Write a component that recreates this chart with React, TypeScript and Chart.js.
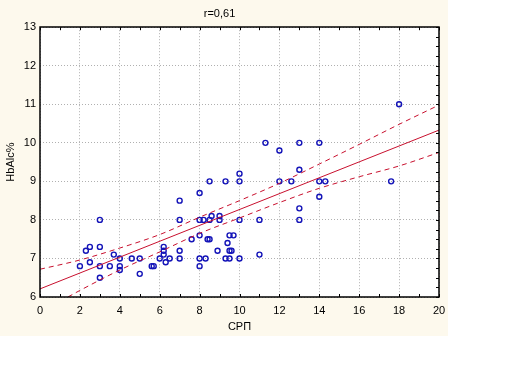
import React, { useEffect, useRef } from "react";
import { Chart, registerables } from "chart.js";

Chart.register(...registerables);

// Observations (СРП, HbAlc%)
const obsX = [
  2, 2.3, 2.5, 2.5, 3, 3, 3, 3, 3.5, 3.7, 4, 4, 4, 4.6, 5, 5, 5.6, 5.7, 6, 6.2,
  6.2, 6.2, 6.3, 6.5, 7, 7, 7, 7, 7.6, 8, 8, 8, 8, 8, 8.2, 8.3, 8.4, 8.5, 8.5,
  8.5, 8.6, 8.9, 9, 9, 9.3, 9.3, 9.4, 9.5, 9.5, 9.5, 9.6, 9.7, 10, 10, 10, 10,
  11, 11, 11.3, 12, 12, 12.6, 13, 13, 13, 13, 14, 14, 14, 14.3, 17.6, 18,
];
const obsY = [
  6.8, 7.2, 7.3, 6.9, 8.0, 7.3, 6.8, 6.5, 6.8, 7.1, 7.0, 6.8, 6.7, 7.0, 7.0, 6.6,
  6.8, 6.8, 7.0, 7.3, 7.2, 7.1, 6.9, 7.0, 8.5, 8.0, 7.2, 7.0, 7.5, 8.7, 8.0, 7.6,
  7.0, 6.8, 8.0, 7.0, 7.5, 7.5, 9.0, 8.0, 8.1, 7.2, 8.0, 8.1, 9.0, 7.0, 7.4, 7.0,
  7.6, 7.2, 7.2, 7.6, 9.2, 9.0, 8.0, 7.0, 8.0, 7.1, 10.0, 9.8, 9.0, 9.0, 10.0,
  9.3, 8.3, 8.0, 10.0, 9.0, 8.6, 9.0, 9.0, 11.0,
];

// Regression line and 95% confidence bands
const fitX = [0, 20];
const fitY = [6.21, 10.33];
const upperX = [0, 2, 4, 6, 8, 10, 12, 14, 16, 18, 20];
const upperY = [6.72, 6.96, 7.27, 7.62, 8.07, 8.5, 8.95, 9.45, 9.96, 10.48, 10.98];
const lowerX = [1.4, 2, 4, 6, 8, 10, 12, 14, 16, 18, 20];
const lowerY = [6.0, 6.17, 6.7, 7.17, 7.65, 8.05, 8.45, 8.82, 9.12, 9.4, 9.75];

const titleText = "r=0,61";
const xTitle = "СРП";
const yTitle = "HbAlc%";

const zip = (xs: number[], ys: number[]) => xs.map((x, i) => ({ x, y: ys[i] }));

const FONT = "'Liberation Sans', Arial, sans-serif";
const RED = "#c8102e";
const BLUE = "#1414b8";

const framePlugin = {
  id: "frame",
  beforeDraw(chart: any) {
    const { ctx, width, height, chartArea: a } = chart;
    ctx.save();
    ctx.fillStyle = "#fdf9ed";
    ctx.fillRect(0, 0, width, height);
    ctx.fillStyle = "#ffffff";
    ctx.fillRect(a.left, a.top, a.right - a.left, a.bottom - a.top);
    ctx.restore();
  },
  afterDatasetsDraw(chart: any) {
    const { ctx, chartArea: a, scales } = chart;
    const xs = scales.x;
    const ys = scales.y;
    ctx.save();
    ctx.strokeStyle = "#000000";
    ctx.lineWidth = 1;
    ctx.beginPath();
    // minor ticks on top and bottom (every unit)
    for (let v = xs.min; v <= xs.max; v += 1) {
      const px = Math.round(xs.getPixelForValue(v)) + 0.5;
      ctx.moveTo(px, a.bottom);
      ctx.lineTo(px, a.bottom - 3);
      ctx.moveTo(px, a.top);
      ctx.lineTo(px, a.top + 3);
    }
    // minor ticks on right (every quarter)
    for (let v = ys.min; v <= ys.max + 1e-9; v += 0.25) {
      const py = Math.round(ys.getPixelForValue(v)) + 0.5;
      ctx.moveTo(a.right, py);
      ctx.lineTo(a.right - 3, py);
    }
    ctx.stroke();
    ctx.lineWidth = 1.5;
    ctx.strokeRect(
      Math.round(a.left),
      Math.round(a.top),
      Math.round(a.right - a.left),
      Math.round(a.bottom - a.top)
    );
    ctx.restore();
  },
};

export default function App() {
  const ref = useRef<HTMLCanvasElement | null>(null);

  useEffect(() => {
    document.body.style.margin = "0";
    document.body.style.background = "#ffffff";
    if (!ref.current) return;
    const chart = new Chart(ref.current, {
      type: "scatter",
      data: {
        datasets: [
          {
            label: "obs",
            data: zip(obsX, obsY),
            pointStyle: "circle",
            pointRadius: 2.5,
            pointBorderWidth: 1.4,
            pointBorderColor: BLUE,
            pointBackgroundColor: "rgba(255,255,255,0)",
            showLine: false,
            order: 2,
          } as any,
          {
            label: "fit",
            data: zip(fitX, fitY),
            showLine: true,
            borderColor: RED,
            borderWidth: 1,
            pointRadius: 0,
            order: 1,
          } as any,
          {
            label: "upper",
            data: zip(upperX, upperY),
            showLine: true,
            borderColor: RED,
            borderWidth: 1,
            borderDash: [5, 4],
            pointRadius: 0,
            cubicInterpolationMode: "monotone",
            order: 1,
          } as any,
          {
            label: "lower",
            data: zip(lowerX, lowerY),
            showLine: true,
            borderColor: RED,
            borderWidth: 1,
            borderDash: [5, 4],
            pointRadius: 0,
            cubicInterpolationMode: "monotone",
            order: 1,
          } as any,
        ],
      },
      options: {
        animation: false,
        responsive: false,
        maintainAspectRatio: false,
        layout: { padding: { left: 0, right: 9, top: 0, bottom: 0 } },
        plugins: {
          legend: { display: false },
          tooltip: { enabled: false },
          title: {
            display: true,
            text: titleText,
            color: "#000000",
            font: { family: FONT, size: 11, weight: "normal" },
            padding: { top: 7, bottom: 7 },
          },
        },
        scales: {
          x: {
            type: "linear",
            min: 0,
            max: 20,
            ticks: {
              stepSize: 2,
              color: "#000000",
              font: { family: FONT, size: 11 },
              padding: 7,
              maxRotation: 0,
            },
            grid: { color: "#b0b0b0", drawTicks: false, lineWidth: 1 },
            border: { display: false, dash: [1, 2] },
            title: {
              display: true,
              text: xTitle,
              color: "#000000",
              font: { family: FONT, size: 11 },
              padding: { top: 0, bottom: 2 },
            },
            afterFit(scale: any) {
              scale.height = 39;
              scale.paddingRight = 0;
              scale.paddingLeft = 0;
            },
          },
          y: {
            type: "linear",
            min: 6,
            max: 13,
            ticks: {
              stepSize: 1,
              color: "#000000",
              font: { family: FONT, size: 11 },
              padding: 4,
            },
            grid: { color: "#b0b0b0", drawTicks: false, lineWidth: 1 },
            border: { display: false, dash: [1, 2] },
            title: {
              display: true,
              text: yTitle,
              color: "#000000",
              font: { family: FONT, size: 11 },
              padding: { top: 4, bottom: 0 },
            },
            afterFit(scale: any) {
              scale.width = 40;
              scale.paddingTop = 0;
              scale.paddingBottom = 0;
            },
          },
        },
      } as any,
      plugins: [framePlugin],
    });
    return () => chart.destroy();
  }, []);

  return (
    <div style={{ width: 448, height: 336 }}>
      <canvas ref={ref} width={448} height={336} style={{ display: "block" }} />
    </div>
  );
}
